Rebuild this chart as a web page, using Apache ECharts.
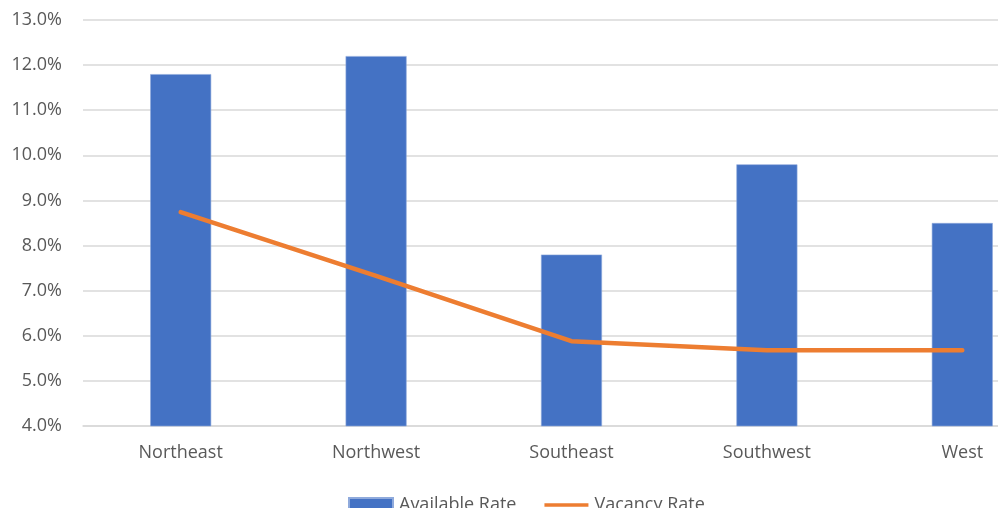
<!DOCTYPE html>
<html>
<head>
<meta charset="utf-8">
<script src="https://cdn.jsdelivr.net/npm/echarts@6/dist/echarts.min.js"></script>
<style>
  html, body { margin: 0; padding: 0; background: #fff; overflow: hidden; }
  #chart { width: 1060px; height: 508px; }
</style>
</head>
<body>
<div id="chart"></div>
<script>
// Regional rates (percent)
const regions = ['Northeast', 'Northwest', 'Southeast', 'Southwest', 'West'];
const availableRate = [11.8, 12.2, 7.8, 9.8, 8.5];
const vacancyRate = [8.74, 7.33, 5.88, 5.68, 5.68];
const yTicks = { min: 4, max: 13, step: 1 };

const textColor = '#595959';
const fontFamily = '"Open Sans", "Liberation Sans", sans-serif';

const chart = echarts.init(document.getElementById('chart'), null, { renderer: 'canvas' });
chart.setOption({
  animation: false,
  backgroundColor: '#ffffff',
  textStyle: { fontFamily: fontFamily },
  grid: { left: 83, right: 0, top: 20, bottom: 82 },
  legend: {
    left: 343,
    top: 491,
    itemWidth: 44,
    itemHeight: 14,
    itemGap: 28,
    symbolKeepAspect: true,
    textStyle: { color: textColor, fontSize: 18, fontFamily: fontFamily, padding: [0, 0, 0, 1] },
    data: [
      { name: 'Available Rate', icon: 'rect' },
      { name: 'Vacancy Rate', icon: 'path://M0,0 L50,0 L50,4 L0,4 Z' }
    ]
  },
  xAxis: {
    type: 'category',
    data: regions,
    axisLine: { show: true, lineStyle: { color: '#d9d9d9', width: 1.5 } },
    axisTick: { show: false },
    axisLabel: { color: textColor, fontSize: 18, margin: 18, fontFamily: fontFamily }
  },
  yAxis: {
    type: 'value',
    min: yTicks.min,
    max: yTicks.max,
    interval: yTicks.step,
    axisLine: { show: false },
    axisTick: { show: false },
    splitLine: { lineStyle: { color: '#d9d9d9', width: 1.5 } },
    axisLabel: {
      color: textColor,
      fontSize: 18,
      margin: 21,
      fontFamily: fontFamily,
      formatter: v => v.toFixed(1) + '%'
    }
  },
  series: [
    {
      name: 'Available Rate',
      type: 'bar',
      data: availableRate,
      barWidth: 61,
      itemStyle: { color: '#4472c4', borderColor: '#8faadc', borderWidth: 0.6 }
    },
    {
      name: 'Vacancy Rate',
      type: 'line',
      data: vacancyRate,
      symbol: 'none',
      lineStyle: { color: '#ed7d31', width: 4.5, cap: 'round', join: 'round' },
      itemStyle: { color: '#ed7d31' }
    }
  ]
});
</script>
</body>
</html>
